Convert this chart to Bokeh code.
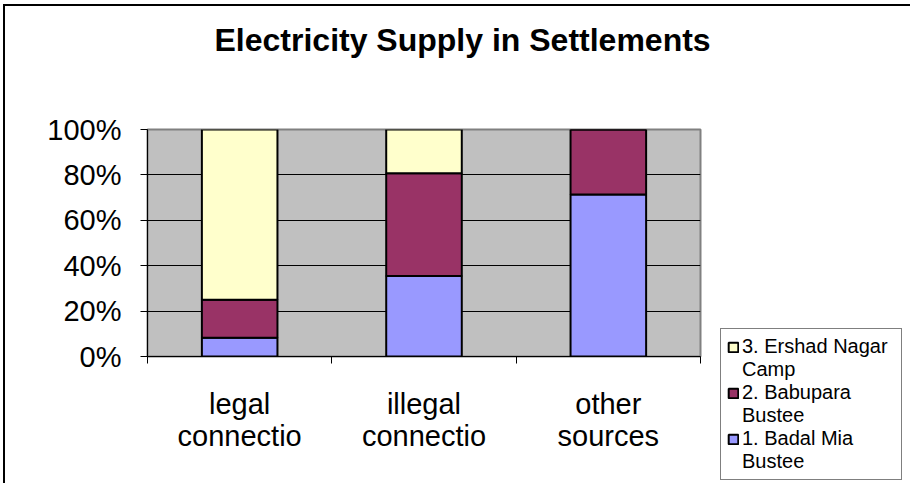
from bokeh.plotting import figure
from bokeh.models import (Range1d, FixedTicker, NumeralTickFormatter, Legend, LegendItem,
                          ColumnDataSource, Title)
from bokeh.embed import file_html
from bokeh.resources import INLINE

title = "Electricity Supply in Settlements"
categories = ["legal\nconnectio", "illegal\nconnectio", "other\nsources"]
series_names = ["1. Badal Mia\nBustee", "2. Babupara\nBustee", "3. Ershad Nagar\nCamp"]
badal_mia = [0.083, 0.355, 0.714]
babupara = [0.167, 0.452, 0.286]
ershad_nagar = [0.750, 0.193, 0.0]
colors = ["#9999FF", "#993366", "#FFFFCC"]
y_ticks = [0.0, 0.2, 0.4, 0.6, 0.8, 1.0]

FONT = "Liberation Sans"

xs = [i + 0.5 for i in range(len(categories))]
src = ColumnDataSource(dict(x=xs, s1=badal_mia, s2=babupara, s3=ershad_nagar))

p = figure(width=910, height=483, output_backend="svg", toolbar_location=None,
           x_range=Range1d(0, len(categories)), y_range=Range1d(0, 1),
           frame_width=553, frame_height=227,
           min_border_left=147, min_border_right=210, min_border_top=129, min_border_bottom=127,
           title=title)
p.background_fill_color = "#C0C0C0"
p.border_fill_color = "white"
p.border_fill_alpha = 0
p.outline_line_color = "#808080"
p.outline_line_width = 2
p.styles = {"background-color": "white",
            "box-shadow": "inset 3px 4px 0 0 white, inset 5px 6px 0 0 black"}

p.title.text_font = FONT
p.title.text_font_size = "32px"
p.title.text_font_style = "bold"
p.title.align = "left"
p.title.offset = 67
p.title.standoff = 10
p.title.text_color = "black"

# spacer between title and plot area
p.add_layout(Title(text=" ", text_font_size="10px", standoff=54), "above")

renderers = p.vbar_stack(["s1", "s2", "s3"], x="x", width=0.41, source=src,
                         fill_color=colors, line_color="black", line_width=2)

# y axis
p.yaxis.ticker = FixedTicker(ticks=y_ticks)
p.yaxis.formatter = NumeralTickFormatter(format="0%")
p.yaxis.major_label_text_font = FONT
p.yaxis.major_label_text_font_size = "29px"
p.yaxis.major_label_text_color = "black"
p.yaxis.major_tick_out = 7
p.yaxis.major_tick_in = 0
p.yaxis.minor_tick_line_color = None
p.yaxis.axis_line_color = "black"
p.yaxis.major_label_standoff = 19

# x axis
p.xaxis.ticker = FixedTicker(ticks=xs, minor_ticks=list(range(len(categories) + 1)))
p.xaxis.major_label_overrides = {x: c for x, c in zip(xs, categories)}
p.xaxis.major_tick_line_color = None
p.xaxis.minor_tick_out = 7
p.xaxis.minor_tick_in = 0
p.xaxis.minor_tick_line_color = "black"
p.xaxis.axis_line_color = "black"
p.xaxis.major_label_text_font = FONT
p.xaxis.major_label_text_font_size = "29px"
p.xaxis.major_label_text_line_height = 1.0
p.xaxis.major_label_text_color = "black"
p.xaxis.major_label_standoff = 24

p.xgrid.grid_line_color = None
p.ygrid.ticker = FixedTicker(ticks=y_ticks)
p.ygrid.grid_line_color = "black"
p.ygrid.grid_line_width = 1

# legend: each series name on two rows, swatch on the first row
items = []
for i in [2, 1, 0]:
    first, second = series_names[i].split("\n")
    items.append(LegendItem(label=first, renderers=[renderers[i]]))
    items.append(LegendItem(label=second, renderers=[]))
legend = Legend(items=items, location=(20, -124))
legend.label_text_font = FONT
legend.label_text_font_size = "20px"
legend.label_text_color = "black"
legend.border_line_color = "black"
legend.border_line_width = 1
legend.background_fill_color = "white"
legend.spacing = 0
legend.padding = 6
legend.glyph_width = 12
legend.glyph_height = 12
legend.label_height = 12
legend.label_width = 153
legend.label_standoff = 3
p.add_layout(legend, "right")

open("out.html", "w").write(file_html(p, INLINE))
